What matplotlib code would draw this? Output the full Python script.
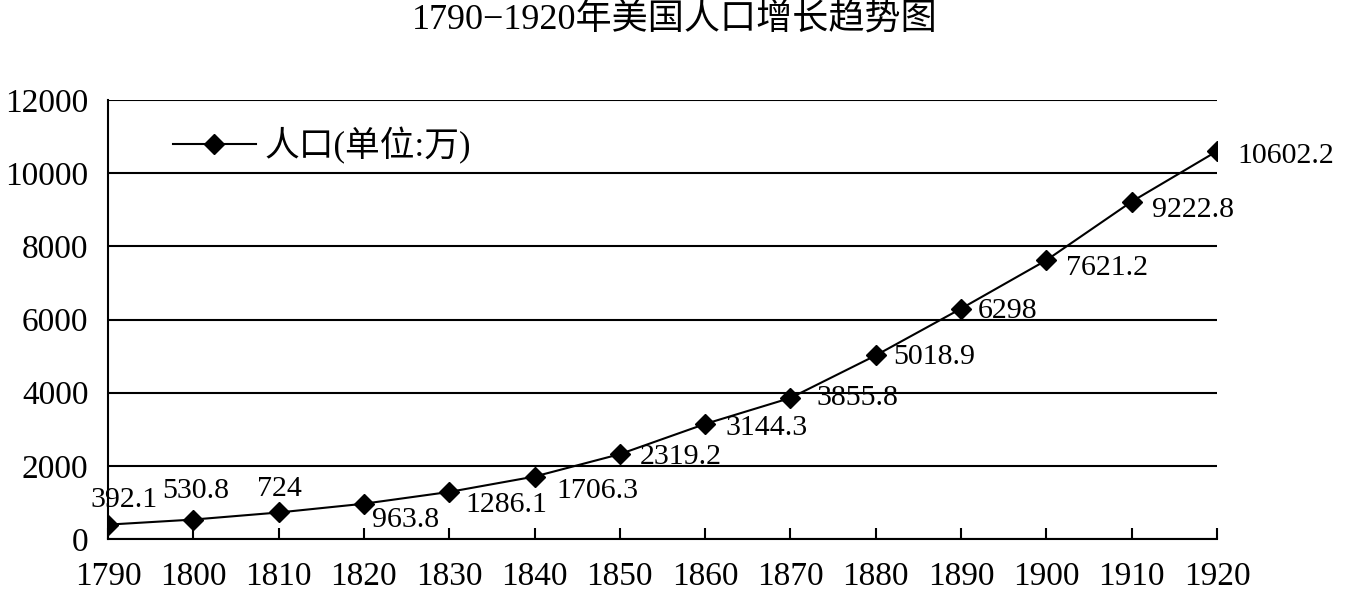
import matplotlib.pyplot as plt

plt.rcParams['font.family'] = ['Liberation Serif', 'Noto Sans CJK SC']

years = [1790, 1800, 1810, 1820, 1830, 1840, 1850, 1860, 1870, 1880, 1890, 1900, 1910, 1920]
population = [392.1, 530.8, 724, 963.8, 1286.1, 1706.3, 2319.2, 3144.3, 3855.8, 5018.9,
              6298, 7621.2, 9222.8, 10602.2]
labels = ['392.1', '530.8', '724', '963.8', '1286.1', '1706.3', '2319.2', '3144.3',
          '3855.8', '5018.9', '6298', '7621.2', '9222.8', '10602.2']

# label offsets in pixels (dx to left edge of text, dy up)
offsets = [(-18, 25), (-31, 29), (-22, 23), (8, -16), (16, -13), (22, -14), (20, -3),
           (20, -4), (26, 0), (17, -2), (17, -2), (20, -8), (20, -8), (20, -5)]

fig = plt.figure(figsize=(13.5, 6), dpi=100)
ax = fig.add_axes([0.08, 0.1017, 0.8215, 0.7316])

ax.plot(years, population, color='black', lw=1.5, marker='D', markersize=10,
        label='人口(单位:万)', zorder=3)

for x, y, t, (dx, dy) in zip(years, population, labels, offsets):
    ax.annotate(t, (x, y), xytext=(dx, dy), textcoords='offset pixels',
                ha='left', va='center', fontsize=21.5)

ax.set_xlim(1790, 1920)
ax.set_ylim(0, 12000)
ax.set_xticks(years)
ax.set_yticks(range(0, 12001, 2000))
ax.tick_params(axis='x', direction='in', length=8, width=1.5, labelsize=24, pad=16)
ax.tick_params(axis='y', length=0, labelsize=24, pad=14)
ax.yaxis.grid(True, color='black', lw=1.5)
ax.set_axisbelow(True)

for s in ['top', 'right']:
    ax.spines[s].set_visible(False)
for s in ['left', 'bottom']:
    ax.spines[s].set_linewidth(1.5)

ax.legend(loc='upper left', frameon=False, fontsize=25, handlelength=2.4,
          bbox_to_anchor=(0.03, 1.01), handletextpad=0.25)

fig.suptitle('1790−1920年美国人口增长趋势图', fontsize=26, y=0.995)

fig.savefig('out.png', dpi=100)
